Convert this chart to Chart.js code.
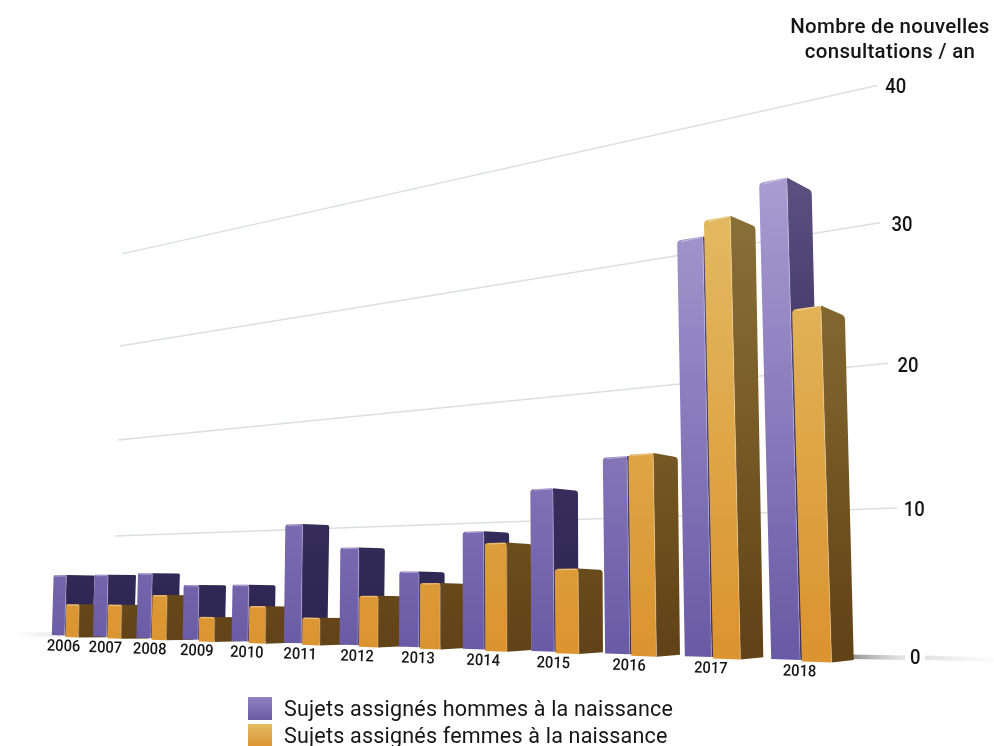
<!DOCTYPE html>
<html lang="fr">
<head>
<meta charset="utf-8">
<title>Nouvelles consultations</title>
<script src="https://cdn.jsdelivr.net/npm/chart.js@4"></script>
<style>
  html, body { margin: 0; padding: 0; background: #fff; overflow: hidden; }
  #zone { position: relative; width: 994px; height: 746px; overflow: hidden; font-family: Roboto, sans-serif; color: #151515; }
  canvas { position: absolute; left: 0; top: 0; }
  #titre { position: absolute; left: 740px; width: 300px; top: 14px; text-align: center; font-size: 20.5px; line-height: 25px; font-weight: 500; letter-spacing: 0.3px; }
  #legende { position: absolute; left: 248px; top: 695px; }
  .ligne { display: flex; align-items: center; height: 27px; font-size: 21.5px; letter-spacing: 0.2px; white-space: nowrap; }
  .carre { width: 24px; height: 23px; margin-right: 12px; }
</style>
</head>
<body>
<div id="zone">
  <canvas id="graf" width="994" height="746"></canvas>
  <div id="titre">Nombre de nouvelles<br>consultations / an</div>
  <div id="legende"></div>
</div>
<script>
const annees = ["2006","2007","2008","2009","2010","2011","2012","2013","2014","2015","2016","2017","2018"];
const hommes = [6.1, 6.1, 6.2, 5, 5, 10.6, 8.3, 6.1, 9.4, 12.7, 14.9, 31.4, 34.7];
const femmes = [3, 3, 4, 1.9, 3, 2, 4, 5.1, 8.4, 6.2, 15, 32.6, 24.8];
const nomHommes = "Sujets assignés hommes à la naissance";
const nomFemmes = "Sujets assignés femmes à la naissance";
const graduations = [0, 10, 20, 30, 40];

// perspective: u = position on the x scale (0..1), v = value on the y scale
function X(u) { return 65 + 736 * u / (1 + 0.5075 * (1 - u)); }
function echelle(u) { return 14.3 / (1 + 0.5075 * (1 - u)); }
function hauteur(u, v) { return echelle(u) * v / (1 + 0.00118 * v); }
function sol(x) { return 634 + (x - 115) * 0.0293; }
function baseFace(x) { return 635 + (x - 52) * 0.0334; }
function inverseX(x) {
    let r = (x - 65) / 736;
    return r * 1.5075 / (1 + 0.5075 * r);
}
function point(u, v) {
    let xb = X(u), h = hauteur(u, v);
    return { x: xb - (xb - 450) * 0.00008 * h, y: sol(xb) - h };
}

// polygone, avec coins arrondis si p.r est donne
function poly(ctx, pts, fill) {
    let n = pts.length;
    ctx.fillStyle = fill;
    ctx.beginPath();
    ctx.moveTo((pts[n - 1].x + pts[0].x) / 2, (pts[n - 1].y + pts[0].y) / 2);
    pts.forEach((p, i) => {
        let s = pts[(i + 1) % n];
        ctx.arcTo(p.x, p.y, s.x, s.y, p.r || 0);
    });
    ctx.closePath();
    ctx.fill();
}

function degrade(ctx, stops) {
    let g = ctx.createLinearGradient(0, 170, 0, 645);
    stops.forEach((s, i) => g.addColorStop(i / (stops.length - 1), s));
    return g;
}

function dessineBarre(ctx, chart, el, c1, c2, extra) {
    let xs = chart.scales.x, ys = chart.scales.y;
    let v = ys.getValueForPixel(el.y);
    let u1 = xs.getDecimalForPixel(el.x - el.width / 2);
    let u2 = xs.getDecimalForPixel(el.x + el.width / 2);
    let hautG = point(u1, v), hautD = point(u2, v);
    let x1 = X(u1), x2 = X(u2);
    let basG = { x: x1, y: baseFace(x1) + extra };
    let basD = { x: x2, y: baseFace(x2) + extra };
    let h = basD.y - hautD.y;
    let r = 0.6 + 4 * x2 / 800;
    let large = 28 - (x2 - 50) * 0.0075;
    let arrHaut = { x: hautD.x + large + h * 0.005, y: hautD.y + h * (0.005 + 0.000000036 * hautD.x * hautD.x), r: r };
    let arrBas = { x: basD.x + large, y: basD.y - 2.5 * x2 / 800 };
    poly(ctx, [hautD, arrHaut, arrBas, basD], c2);
    poly(ctx, [{ x: hautG.x, y: hautG.y, r: r }, { x: hautD.x, y: hautD.y, r: r / 2 }, basD, basG], c1);
    // reflets sur les aretes
    ctx.lineWidth = 1.3;
    ctx.strokeStyle = "rgba(255,255,255,0.22)";
    ctx.beginPath();
    ctx.moveTo(hautD.x, hautD.y + r);
    ctx.lineTo(basD.x, basD.y);
    ctx.stroke();
    ctx.strokeStyle = "rgba(255,255,255,0.35)";
    ctx.beginPath();
    ctx.moveTo(hautG.x + r, hautG.y + 0.8);
    ctx.lineTo(hautD.x - r / 2, hautD.y + 0.8);
    ctx.stroke();
}

function ombre(ctx, x1, y1, x2, y2, coul) {
    let g = ctx.createLinearGradient(x1, 0, x2, 0);
    coul.forEach((s, i) => g.addColorStop(i / (coul.length - 1), s));
    ctx.fillStyle = g;
    ctx.beginPath();
    ctx.moveTo(x1, y1 - 1.5);
    ctx.lineTo(x2, y2 - 1.5);
    ctx.lineTo(x2, y2 + 3);
    ctx.lineTo(x1, y1 + 3);
    ctx.closePath();
    ctx.fill();
}

// texte etroit et haut, proche du caractere d'origine
function texte(ctx, s, x, y, angle, serre) {
    ctx.save();
    ctx.translate(x, y);
    ctx.rotate(angle);
    ctx.scale(serre, 1);
    ctx.fillText(s, 0, 0);
    ctx.restore();
}

const perspective = {
    id: "perspective",
    beforeDatasetsDraw(chart) {
        let ctx = chart.ctx, ys = chart.scales.y, xs = chart.scales.x;
        ctx.save();

        // lignes de la grille
        let debut = { 10: 115, 20: 118, 30: 120, 40: 122 };
        let fin = { 10: 897, 20: 888, 30: 880, 40: 877 };
        ys.ticks.forEach(t => {
            if (t.value === 0) return;
            let a = inverseX(debut[t.value]), b = inverseX(fin[t.value]);
            ctx.strokeStyle = "#d9e1de";
            ctx.lineWidth = 1.5;
            ctx.beginPath();
            ctx.moveTo(debut[t.value], sol(X(a)) - hauteur(a, t.value) * 1.01);
            ctx.lineTo(fin[t.value], sol(X(b)) - hauteur(b, t.value) * 1.01);
            ctx.stroke();
        });

        // ombre au sol
        ombre(ctx, 10, 633, 60, 634, ["rgba(215,215,215,0)", "rgba(205,205,205,0.45)"]);
        ombre(ctx, 850, 656, 905, 657, ["rgba(130,130,130,0.9)", "rgba(205,205,205,0.5)"]);
        ombre(ctx, 925, 657, 994, 659, ["rgba(205,205,205,0.6)", "rgba(235,235,235,0.2)"]);

        // barres, de la gauche vers la droite
        let violet = degrade(ctx, ["#a99dd2", "#8a7cbd", "#6a5ba6"]);
        let violetCote = degrade(ctx, ["#5b5282", "#3c3362", "#2c2450"]);
        let jaune = degrade(ctx, ["#e4bd66", "#dfa94b", "#db9430"]);
        let jauneCote = degrade(ctx, ["#8c743a", "#7a5d28", "#624217"]);
        let m0 = chart.getDatasetMeta(0).data, m1 = chart.getDatasetMeta(1).data;
        m0.forEach((el, j) => {
            dessineBarre(ctx, chart, el, violet, violetCote, 0);
            dessineBarre(ctx, chart, m1[j], jaune, jauneCote, 1.5);
        });

        // graduations et annees
        ctx.fillStyle = "#151515";
        ctx.textBaseline = "middle";
        ctx.textAlign = "left";
        ctx.font = "500 21px Roboto";
        ys.ticks.forEach(t => {
            let v = t.value;
            texte(ctx, String(v), 910 - 0.62 * v, sol(900) + 1.5 - hauteur(inverseX(900), v), 0, 0.88);
        });
        ctx.font = "500 16px Roboto";
        ctx.textAlign = "center";
        xs.ticks.forEach((t, i) => {
            let x = X(xs.getDecimalForPixel(xs.getPixelForTick(i))) - 1.5;
            texte(ctx, t.label, x, sol(x) + 14.6 + (x - 62) * 0.0046, 0.03, 0.92);
        });
        ctx.restore();
        return false;
    }
};

let miGrafica = new Chart(document.getElementById("graf").getContext("2d"), {
    type: "bar",
    data: {
        labels: annees,
        datasets: [
            { label: nomHommes, data: hommes },
            { label: nomFemmes, data: femmes }
        ]
    },
    options: {
        responsive: false,
        animation: false,
        devicePixelRatio: 1,
        categoryPercentage: 0.67,
        barPercentage: 0.95,
        layout: { padding: 0 },
        plugins: { legend: { display: false }, tooltip: { enabled: false } },
        scales: {
            x: { display: false, offset: false, ticks: { autoSkip: false } },
            y: { display: false, min: 0, max: 40, afterBuildTicks(s) { s.ticks = graduations.map(v => ({ value: v })); } }
        }
    },
    plugins: [perspective]
});

// legende en texte
let carres = [
    "linear-gradient(#8f82c2, #6a5ba6)",
    "linear-gradient(#e4bd66, #db9430)"
];
document.getElementById("legende").innerHTML = miGrafica.data.datasets.map((d, i) =>
    `<div class="ligne"><div class="carre" style="background:${carres[i]}"></div>${d.label}</div>`
).join("");
</script>
</body>
</html>
